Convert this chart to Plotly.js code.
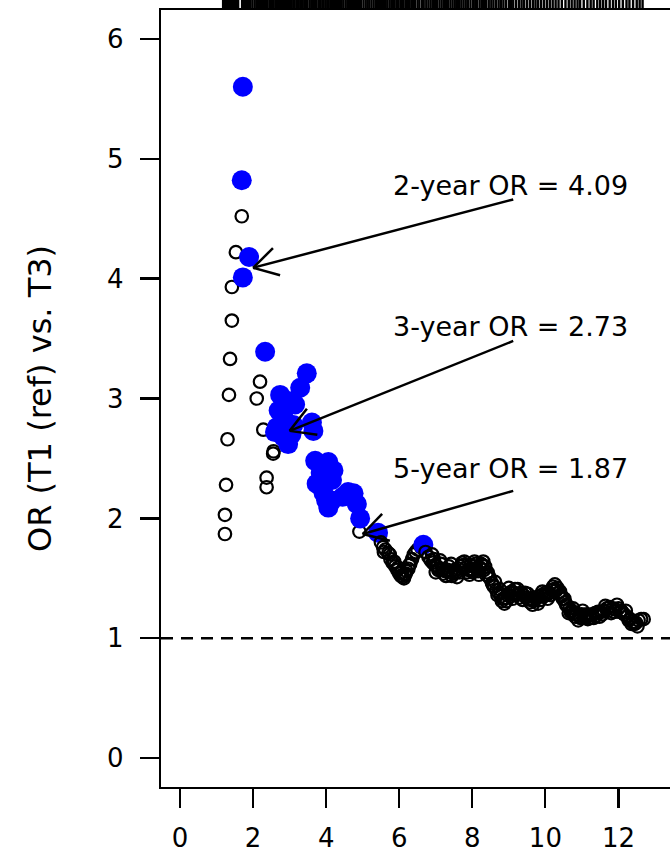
<!DOCTYPE html>
<html><head><meta charset="utf-8">
<script src="https://cdn.plot.ly/plotly-3.0.1.min.js"></script>
<style>html,body{margin:0;padding:0;overflow:hidden;background:#fff}#chart{width:680px;height:860px}</style>
</head><body><div id="chart"></div>
<script>
// ---- data ----
const times = [
 1.23,1.23,1.26,1.30,1.34,1.37,1.42,1.42,1.53,1.69,
 1.72,1.69,1.89,1.72,
 2.10,2.19,2.28,2.37,2.37,2.55,2.56,2.33,
 2.60,2.65,2.70,2.74,2.83,2.83,2.96,2.96,3.05,3.10,3.15,3.29,3.47,3.61,3.65,
 3.70,3.74,3.85,3.93,3.95,4.00,4.06,4.06,4.16,4.16,4.20,4.45,4.60,4.75,4.84,4.93,
 4.91,5.42,5.50,
 5.56,5.58,5.62,5.70,5.74,5.76,5.82,5.86,5.89,5.95,5.97,6.00,6.05,6.07,6.10,6.13,6.15,6.18,6.20,6.25,6.27,6.30,6.35,6.40,6.45,6.50,6.60,
 6.66,
 6.72,6.80,6.86,6.92,6.95,6.98,7.04,7.07,7.10,7.14,7.18,7.21,7.25,7.32,7.36,7.40,7.44,7.48,7.52,7.56,7.62,7.65,7.68,7.72,7.75,7.82,7.86,7.90,7.94,7.98,
 8.02,8.05,8.09,8.12,8.16,8.20,8.24,8.28,8.32,8.35,8.42,8.45,8.48,8.54,8.57,8.60,8.66,8.69,8.72,8.78,8.81,8.84,8.90,8.93,8.96,
 9.02,9.05,9.08,9.14,9.17,9.20,9.27,9.30,9.34,9.40,9.44,9.47,9.54,9.58,9.61,9.68,9.71,9.75,9.82,9.86,9.90,9.96,
 10.00,10.03,10.10,10.14,10.17,10.21,10.24,10.30,10.33,10.36,10.42,10.45,10.48,10.54,10.57,10.60,10.66,10.69,10.72,10.78,10.82,10.85,10.92,10.96,10.99,
 11.06,11.10,11.13,11.20,11.24,11.28,11.36,11.40,11.44,11.52,11.56,11.60,11.68,11.72,11.76,11.84,11.88,11.92,
 12.00,12.04,12.08,12.12,12.16,12.24,12.28,12.32,12.40,12.44,12.48,12.55,12.62,12.69,
 6.90,7.00,7.12,7.28,7.42,7.58,7.78,7.92,8.06,8.18,8.30,8.38,8.62,8.75,8.88,9.00,9.10,9.24,9.38,9.52,
 9.65,9.80,9.92,10.06,10.26,10.40,10.52,10.64,10.76,10.90,11.02,11.16,11.32,11.48,11.64,11.80,11.96,12.20,12.36,12.52
];
const orValues = [
 1.87,2.03,2.28,2.66,3.03,3.33,3.65,3.93,4.22,4.52,
 5.60,4.82,4.18,4.01,
 3.00,3.14,2.74,2.26,2.34,2.54,2.56,3.39,
 2.72,2.76,2.90,3.03,2.84,2.68,2.98,2.62,2.70,2.78,2.95,3.09,3.21,2.80,2.73,
 2.48,2.29,2.38,2.21,2.30,2.15,2.47,2.09,2.32,2.15,2.40,2.18,2.22,2.21,2.12,2.00,
 1.89,1.88,1.80,
 1.76,1.72,1.74,1.71,1.70,1.66,1.63,1.64,1.60,1.57,1.59,1.54,1.52,1.55,1.51,1.50,1.53,1.54,1.56,1.58,1.61,1.62,1.66,1.70,1.72,1.74,1.76,
 1.78,
 1.72,1.68,1.65,1.63,1.66,1.61,1.60,1.57,1.58,1.62,1.57,1.54,1.56,1.57,1.60,1.55,1.52,1.54,1.57,1.55,1.58,1.55,1.60,1.63,1.61,1.59,1.55,1.57,1.61,1.58,
 1.55,1.60,1.62,1.58,1.56,1.59,1.62,1.61,1.57,1.60,1.55,1.52,1.50,1.46,1.44,1.43,1.40,1.36,1.38,1.35,1.31,1.33,1.34,1.31,1.36,
 1.38,1.35,1.39,1.38,1.41,1.36,1.37,1.34,1.38,1.36,1.38,1.34,1.33,1.30,1.32,1.31,1.34,1.33,1.35,1.32,1.36,1.35,
 1.38,1.36,1.38,1.36,1.40,1.43,1.41,1.40,1.42,1.38,1.36,1.35,1.33,1.30,1.28,1.27,1.25,1.22,1.23,1.21,1.18,1.20,1.19,1.17,1.20,
 1.19,1.17,1.20,1.19,1.17,1.20,1.21,1.19,1.22,1.22,1.20,1.23,1.25,1.23,1.26,1.25,1.22,1.24,
 1.25,1.22,1.23,1.21,1.20,1.18,1.15,1.16,1.14,1.12,1.13,1.15,1.16,1.16,
 1.70,1.55,1.65,1.52,1.62,1.51,1.64,1.53,1.64,1.53,1.64,1.53,1.47,1.41,1.29,1.42,1.33,1.41,1.32,1.37,
 1.28,1.29,1.39,1.33,1.45,1.39,1.33,1.21,1.25,1.15,1.23,1.16,1.17,1.18,1.27,1.21,1.28,1.23,1.12,1.10
];
const highlighted = [
 0,0,0,0,0,0,0,0,0,0,
 1,1,1,1,
 0,0,0,0,0,0,0,1,
 1,1,1,1,1,1,1,1,1,1,1,1,1,1,1,
 1,1,1,1,1,1,1,1,1,1,1,1,1,1,1,1,
 0,1,0,
 0,0,0,0,0,0,0,0,0,0,0,0,0,0,0,0,0,0,0,0,0,0,0,0,0,0,0,
 1,
 0,0,0,0,0,0,0,0,0,0,0,0,0,0,0,0,0,0,0,0,0,0,0,0,0,0,0,0,0,0,
 0,0,0,0,0,0,0,0,0,0,0,0,0,0,0,0,0,0,0,0,0,0,0,0,0,
 0,0,0,0,0,0,0,0,0,0,0,0,0,0,0,0,0,0,0,0,0,0,
 0,0,0,0,0,0,0,0,0,0,0,0,0,0,0,0,0,0,0,0,0,0,0,0,0,
 0,0,0,0,0,0,0,0,0,0,0,0,0,0,0,0,0,0,
 0,0,0,0,0,0,0,0,0,0,0,0,0,0,
 0,0,0,0,0,0,0,0,0,0,0,0,0,0,0,0,0,0,0,0,
 0,0,0,0,0,0,0,0,0,0,0,0,0,0,0,0,0,0,0,0
];
const rugTimes = [
 1.18,1.21,1.23,1.26,1.29,1.31,1.34,1.37,1.40,1.42,1.45,1.48,1.51,1.53,1.56,1.59,
 1.70,1.73,1.78,1.83,1.88,1.92,1.98,2.04,2.09,2.13,2.19,2.24,2.28,2.33,2.36,2.40,2.46,2.52,2.56,2.61,2.66,2.70,2.74,2.79,2.83,2.87,2.92,2.96,
 3.01,3.05,3.10,3.14,3.20,3.25,3.30,3.34,3.40,3.45,3.49,3.55,3.60,3.64,3.70,3.74,3.80,3.85,3.90,3.93,3.98,
 4.03,4.07,4.12,4.16,4.21,4.27,4.33,4.38,4.42,4.47,4.53,4.58,4.63,4.68,4.74,4.79,4.84,4.90,4.95,
 5.02,5.08,5.13,5.18,5.24,5.30,5.36,5.42,5.47,5.53,5.58,5.63,5.68,5.74,5.80,5.86,5.92,5.97,
 6.03,6.08,6.12,6.18,6.22,6.27,6.33,6.38,6.43,6.50,6.55,6.62,6.67,6.74,6.80,6.86,6.92,6.98,
 7.03,7.10,7.16,7.22,7.28,7.33,7.40,7.46,7.52,7.58,7.64,7.70,7.76,7.82,7.88,7.95,
 8.02,8.08,8.13,8.20,8.26,8.32,8.38,8.45,8.52,8.58,8.65,8.72,8.78,8.85,8.92,
 9.00,9.06,9.12,9.20,9.28,9.35,9.42,9.50,9.58,9.66,9.73,9.80,9.88,9.96,
 10.04,10.12,10.20,10.28,10.36,10.45,10.55,10.64,10.72,10.80,10.88,10.95,
 11.05,11.15,11.24,11.32,11.42,11.50,11.58,11.66,11.76,11.85,11.93,
 12.02,12.12,12.22,12.30,12.40,12.50,12.58,12.66
];
const xTickVals = [0,2,4,6,8,10,12];
const yTickVals = [0,1,2,3,4,5,6];
const referenceOR = 1;
const yTitle = 'OR (T1 (ref) vs. T3)';
const calloutLabels = ['2-year OR = 4.09','3-year OR = 2.73','5-year OR = 1.87'];
const calloutTimes = [2,3,5];
const calloutOR = [4.09,2.73,1.87];

// ---- layout constants (positions / styles) ----
const W = 680, H = 860;
const M = {l:161, r:6, t:0, b:73};
const xRange = [-0.52, 13.52];
const yRange = [-0.24, 6.24];
const plotH = H - M.t - M.b;          // 787
const mainTop = (plotH - 10) / plotH;  // main box starts 10px below top
const plotW = W - M.l - M.r;
const sx = plotW / (xRange[1]-xRange[0]);
const sy = (plotH - 10) / (yRange[1]-yRange[0]);
const FONT = 'DejaVu Sans';
const tailX = 9.12;
const tailY = [4.66, 3.48, 2.23];
const labelX = 9.035;
const labelY = [4.775, 3.60, 2.42];
const headLen = 28, headAng = Math.PI/6;
const LW = 2.5;

// order points by time so overlaps follow the original drawing order
const idx = times.map((_,i)=>i).sort((a,b)=>times[a]-times[b]);
const px = idx.map(i=>times[i]);
const py = idx.map(i=>orValues[i]);
const ph = idx.map(i=>highlighted[i]);

const pointTrace = {
  type:'scatter', mode:'markers', x:px, y:py, xaxis:'x', yaxis:'y',
  hoverinfo:'skip', showlegend:false,
  marker:{
    opacity:1,
    symbol: ph.map(h=>h?'circle':'circle-open'),
    size: ph.map(h=>h?20:12.5),
    color: ph.map(h=>h?'#0000ff':'#000000'),
    line:{width: ph.map(h=>h?0:2.2), color: ph.map(h=>h?'#0000ff':'#000000')}
  }
};
const rugTrace = {
  type:'scatter', mode:'markers', x:rugTimes, y:rugTimes.map(()=>0.5),
  xaxis:'x2', yaxis:'y2', hoverinfo:'skip', showlegend:false,
  marker:{opacity:1, symbol:'line-ns-open', size:10, color:'#000000', line:{width:2.4, color:'#000000'}}
};

const shapes = [{
  type:'line', xref:'paper', yref:'y', x0:0, x1:1, y0:referenceOR, y1:referenceOR,
  line:{color:'#000', width:LW, dash:'12px,8px'}, layer:'above'
}];
const annotations = [];
calloutLabels.forEach((lab,k)=>{
  const tx = calloutTimes[k], ty = calloutOR[k];
  shapes.push({type:'line', xref:'x', yref:'y', x0:tx, y0:ty, x1:tailX, y1:tailY[k],
    line:{color:'#000', width:LW}});
  const a = Math.atan2((tailY[k]-ty)*sy, (tailX-tx)*sx);
  [a+headAng, a-headAng].forEach(b=>{
    shapes.push({type:'line', xref:'x', yref:'y', xsizemode:'pixel', ysizemode:'pixel',
      xanchor:tx, yanchor:ty, x0:0, y0:0, x1:headLen*Math.cos(b), y1:headLen*Math.sin(b),
      line:{color:'#000', width:LW}});
  });
  annotations.push({x:labelX, y:labelY[k], xref:'x', yref:'y', text:lab, showarrow:false,
    xanchor:'center', yanchor:'middle', font:{family:FONT, size:27, color:'#000'}});
});

const axisCommon = {showgrid:false, zeroline:false, showline:true, mirror:true,
  linecolor:'#000', linewidth:2.2, ticks:'outside', ticklen:19, tickwidth:2.2, tickcolor:'#000',
  tickfont:{family:FONT, size:26, color:'#000'}, tickmode:'array', fixedrange:true};

const layout = {
  width:W, height:H, margin:M, paper_bgcolor:'#fff', plot_bgcolor:'#fff',
  showlegend:false,
  xaxis:Object.assign({}, axisCommon, {range:xRange, tickvals:xTickVals, ticktext:xTickVals.map(String),
    anchor:'y', ticklabelstandoff:8}),
  yaxis:Object.assign({}, axisCommon, {range:yRange, tickvals:yTickVals, ticktext:yTickVals.map(String),
    domain:[0, mainTop], anchor:'x', ticklabelstandoff:11, automargin:true,
    title:{text:yTitle, font:{family:FONT, size:32, color:'#000'}, standoff:46}}),
  xaxis2:{range:xRange, anchor:'y2', visible:false, fixedrange:true},
  yaxis2:{range:[0,1], domain:[mainTop,1], anchor:'x2', visible:false, fixedrange:true},
  shapes:shapes, annotations:annotations
};
Plotly.newPlot('chart', [rugTrace, pointTrace], layout, {displayModeBar:false, staticPlot:true});
</script></body></html>
